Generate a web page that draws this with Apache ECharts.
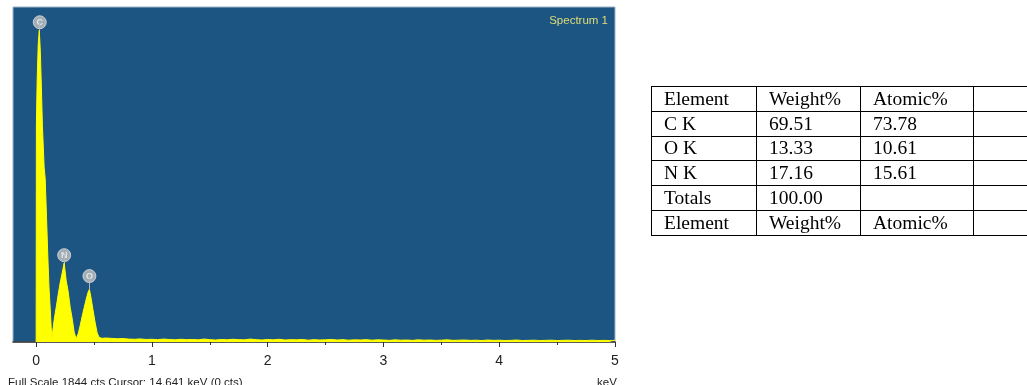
<!DOCTYPE html>
<html>
<head>
<meta charset="utf-8">
<script src="https://cdn.jsdelivr.net/npm/echarts@6/dist/echarts.min.js"></script>
<style>
  html, body { margin:0; padding:0; width:1027px; height:385px; overflow:hidden; background:#fff; }
  #chart { position:absolute; left:0; top:0; width:1027px; height:385px; }
  #tbl { position:absolute; left:651px; top:86px; border-collapse:collapse; font-family:"Liberation Serif","Times New Roman",serif; font-size:19.5px; color:#000; }
  #tbl td { border:1px solid #000; height:24.8px; padding:0 0 0 12px; line-height:20px; vertical-align:middle; white-space:nowrap; box-sizing:border-box; }
</style>
</head>
<body>
<div id="chart"></div>
<table id="tbl"></table>
<script>
// ---------- data ----------
const energies = [
  0.000, 0.002, 0.009, 0.018, 0.027, 0.031, 0.036, 0.043, 0.054, 0.069, 0.078, 0.090, 0.101, 0.111, 0.121, 0.130, 0.136,
  0.155, 0.173, 0.190, 0.207, 0.225, 0.242, 0.259, 0.276, 0.294, 0.311, 0.328, 0.345,
  0.363, 0.380, 0.397, 0.415, 0.432, 0.449, 0.460, 0.475, 0.490, 0.510, 0.527, 0.544, 0.570,
  0.60, 0.65, 0.70, 0.75, 0.80, 0.85, 0.90, 0.95, 1.00, 1.05, 1.10, 1.15, 1.20, 1.25, 1.30, 1.35, 1.40, 1.45,
  1.50, 1.55, 1.60, 1.65, 1.70, 1.75, 1.80, 1.85, 1.90, 1.95, 2.00, 2.05, 2.10, 2.15, 2.20, 2.25, 2.30, 2.35,
  2.40, 2.45, 2.50, 2.55, 2.60, 2.65, 2.70, 2.75, 2.80, 2.85, 2.90, 2.95, 3.00, 3.05, 3.10, 3.15, 3.20, 3.25,
  3.30, 3.35, 3.40, 3.45, 3.50, 3.55, 3.60, 3.65, 3.70, 3.75, 3.80, 3.85, 3.90, 3.95, 4.00, 4.05, 4.10, 4.15,
  4.20, 4.25, 4.30, 4.35, 4.40, 4.45, 4.50, 4.55, 4.60, 4.65, 4.70, 4.75, 4.80, 4.85, 4.90, 4.95, 5.00
];
const counts = [
  0, 1190, 1450, 1640, 1716, 1716, 1600, 1450, 1193, 960, 900, 680, 467, 300, 187, 80, 20,
  120, 190, 260, 325, 380, 435, 340, 280, 190, 130, 55, 18,
  45, 90, 140, 190, 235, 275, 290, 240, 180, 105, 50, 25, 20,
  22, 20, 18, 19, 16, 15, 17, 14, 15, 13, 16, 14, 12, 15, 13, 14, 12, 16,
  13, 11, 14, 12, 15, 13, 12, 16, 13, 11, 14, 12, 15, 11, 13, 12, 14, 10,
  13, 11, 12, 14, 11, 13, 10, 12, 11, 13, 10, 12, 11, 9, 12, 10, 11, 9,
  12, 10, 11, 9, 10, 12, 9, 10, 11, 9, 10, 8, 11, 9, 10, 8, 9, 11,
  8, 9, 10, 8, 9, 10, 8, 9, 10, 8, 9, 8, 10, 8, 9, 8, 9
];
const peakNames = ['C', 'N', 'O'];
const peakEnergies = [0.031, 0.242, 0.460];
const peakTops = [1716, 435, 290];
const peakLabelCounts = [1760, 478, 363];
const fullScale = 1844;
const tickValues = [0, 1, 2, 3, 4, 5];
const minorTickValues = [0.5, 1.5, 2.5, 3.5, 4.5];
const spectrumTitle = 'Spectrum 1';
const footerText = 'Full Scale 1844 cts Cursor: 14.641 keV (0 cts)';
const unitText = 'keV';

const tableRows = [
  ['Element', 'Weight%', 'Atomic%', ''],
  ['C K', '69.51', '73.78', ''],
  ['O K', '13.33', '10.61', ''],
  ['N K', '17.16', '15.61', ''],
  ['Totals', '100.00', '', ''],
  ['Element', 'Weight%', 'Atomic%', '']
];
const colWidths = [105, 104, 113, 70];

// ---------- table ----------
const tbl = document.getElementById('tbl');
tableRows.forEach(r => {
  const tr = document.createElement('tr');
  r.forEach((c, i) => {
    const td = document.createElement('td');
    td.textContent = c;
    td.style.width = colWidths[i] + 'px';
    td.style.minWidth = colWidths[i] + 'px';
    tr.appendChild(td);
  });
  tbl.appendChild(tr);
});

// ---------- chart ----------
const chart = echarts.init(document.getElementById('chart'), null, { renderer: 'canvas' });
const spectrum = energies.map((e, i) => [e, counts[i]]);
const labels = peakNames.map((n, i) => ({ name: n, value: [peakEnergies[i], peakLabelCounts[i]] }));
const stems = peakNames.map((n, i) => [
  { coord: [peakEnergies[i], peakTops[i]] },
  { coord: [peakEnergies[i], peakLabelCounts[i]] }
]);

chart.setOption({
  animation: false,
  backgroundColor: '#ffffff',
  grid: {
    left: 13, top: 7, width: 602, height: 335,
    show: true, backgroundColor: '#1c5482', borderColor: '#9fb2c7', borderWidth: 1
  },
  xAxis: [{
    type: 'value', min: -0.2, max: 5,
    axisLine: { show: true, onZero: false, lineStyle: { color: '#333', width: 1.5 } },
    axisTick: { show: true, customValues: tickValues, length: 5, lineStyle: { color: '#333' } },
    axisLabel: { show: true, customValues: tickValues, margin: 12, fontSize: 14, color: '#222', fontFamily: 'Liberation Sans, Arial, sans-serif' },
    splitLine: { show: false }
  }, {
    type: 'value', min: -0.2, max: 5, position: 'bottom',
    axisLine: { show: false },
    axisTick: { show: true, customValues: minorTickValues, length: 3, lineStyle: { color: '#333' } },
    axisLabel: { show: false },
    splitLine: { show: false }
  }],
  yAxis: {
    type: 'value', min: 0, max: fullScale,
    axisLine: { show: false }, axisTick: { show: false }, axisLabel: { show: false }, splitLine: { show: false }
  },
  series: [{
    type: 'line',
    data: spectrum,
    showSymbol: false,
    symbol: 'none',
    lineStyle: { color: '#ffff00', width: 1 },
    areaStyle: { color: '#ffff00', opacity: 1 },
    clip: true,
    z: 2
  }, {
    type: 'scatter',
    data: labels,
    symbol: 'circle',
    symbolSize: 13,
    itemStyle: { color: '#c4c4c4', borderColor: '#e0e0e0', borderWidth: 1 },
    label: { show: true, position: 'inside', formatter: p => p.name, color: '#f4f4f4', fontSize: 9, fontWeight: 'bold', fontFamily: 'Liberation Sans, Arial, sans-serif' },
    markLine: {
      silent: true, symbol: ['none', 'none'],
      label: { show: false },
      lineStyle: { color: '#b8b8b8', width: 1, type: 'solid' },
      data: stems
    },
    z: 3
  }],
  graphic: [{
    type: 'text', right: 1027 - 608, top: 15,
    style: { text: spectrumTitle, fill: '#dede78', fontSize: 11.5, fontFamily: 'Liberation Sans, Arial, sans-serif' }
  }, {
    type: 'text', left: 8, top: 377,
    style: { text: footerText, fill: '#222', fontSize: 11.5, fontFamily: 'Liberation Sans, Arial, sans-serif' }
  }, {
    type: 'text', left: 597, top: 377,
    style: { text: unitText, fill: '#222', fontSize: 11.5, fontFamily: 'Liberation Sans, Arial, sans-serif' }
  }]
});
</script>
</body>
</html>
